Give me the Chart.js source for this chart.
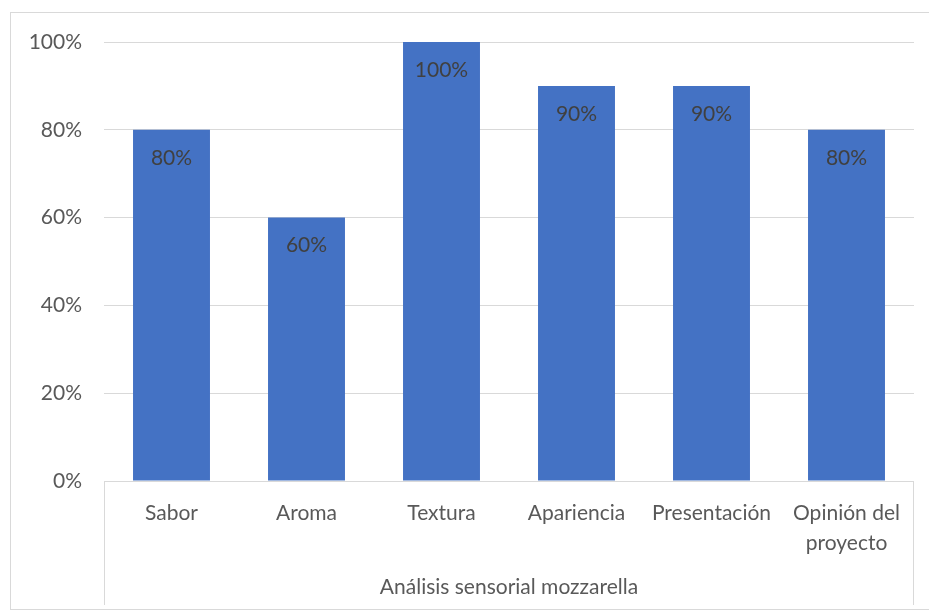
<!DOCTYPE html>
<html>
<head>
<meta charset="utf-8">
<script src="https://cdn.jsdelivr.net/npm/chart.js@4/dist/chart.umd.min.js"></script>
<style>
  body { margin: 0; background: #fff; }
  #frame { position: absolute; left: 10px; top: 12px; width: 940px; height: 596px; border: 1px solid #d9d9d9; }
  #barChart { position: absolute; left: 0; top: 0; }
</style>
</head>
<body>
<div id="frame"></div>
<canvas id="barChart" width="929" height="614"></canvas>
<script>
const categories = ['Sabor', 'Aroma', 'Textura', 'Apariencia', 'Presentación', ['Opinión del', 'proyecto']];
const scores = [80, 60, 100, 90, 90, 80];
const yTicks = [0, 20, 40, 60, 80, 100];
const groupTitle = 'Análisis sensorial mozzarella';

const FONT = 'Lato, "Noto Sans", sans-serif';

// labels inside the top of each bar + group label under the category axis
const labelsPlugin = {
    id: 'labelsPlugin',
    afterDatasetsDraw(chart) {
        const ctx = chart.ctx;
        const meta = chart.getDatasetMeta(0);
        ctx.save();
        ctx.font = '21px ' + FONT;
        ctx.fillStyle = '#404040';
        ctx.textAlign = 'center';
        ctx.textBaseline = 'middle';
        meta.data.forEach(function (bar, i) {
            ctx.fillText(scores[i] + '%', bar.x, bar.y + 28);
        });
        ctx.restore();
    },
    afterDraw(chart) {
        const ctx = chart.ctx;
        const area = chart.chartArea;
        ctx.save();
        ctx.strokeStyle = '#d9d9d9';
        ctx.lineWidth = 1;
        ctx.beginPath();
        ctx.moveTo(Math.round(area.left) + 0.5, area.bottom);
        ctx.lineTo(Math.round(area.left) + 0.5, 605);
        ctx.moveTo(Math.round(area.right) - 0.5, area.bottom);
        ctx.lineTo(Math.round(area.right) - 0.5, 605);
        ctx.stroke();
        ctx.font = '21px ' + FONT;
        ctx.fillStyle = '#595959';
        ctx.textAlign = 'center';
        ctx.textBaseline = 'middle';
        ctx.fillText(groupTitle, (area.left + area.right) / 2, 587);
        ctx.restore();
    }
};

const ctx = document.getElementById('barChart').getContext('2d');
const myChart = new Chart(ctx, {
    type: 'bar',
    data: {
        labels: categories,
        datasets: [{
            data: scores,
            backgroundColor: '#4472c4',
            barPercentage: 0.57,
            categoryPercentage: 1
        }]
    },
    options: {
        responsive: false,
        animation: false,
        layout: { padding: { left: 10, right: 15, top: 42, bottom: 0 } },
        plugins: { legend: { display: false }, tooltip: { enabled: false } },
        scales: {
            x: {
                grid: { display: false, drawTicks: false },
                border: { display: false },
                ticks: {
                    color: '#595959',
                    font: { family: FONT, size: 21, lineHeight: 1.43 },
                    maxRotation: 0,
                    autoSkip: false,
                    padding: 17
                },
                afterFit: function (scale) { scale.height = 133; }
            },
            y: {
                min: 0,
                max: 100,
                afterBuildTicks: function (scale) {
                    scale.ticks = yTicks.map(function (v) { return { value: v }; });
                },
                grid: { color: '#d9d9d9', drawTicks: false },
                border: { display: false },
                ticks: {
                    color: '#595959',
                    font: { family: FONT, size: 21 },
                    padding: 22,
                    callback: function (v) { return v + '%'; }
                },
                afterFit: function (scale) { scale.width = 94; }
            }
        }
    },
    plugins: [labelsPlugin]
});
</script>
</body>
</html>
